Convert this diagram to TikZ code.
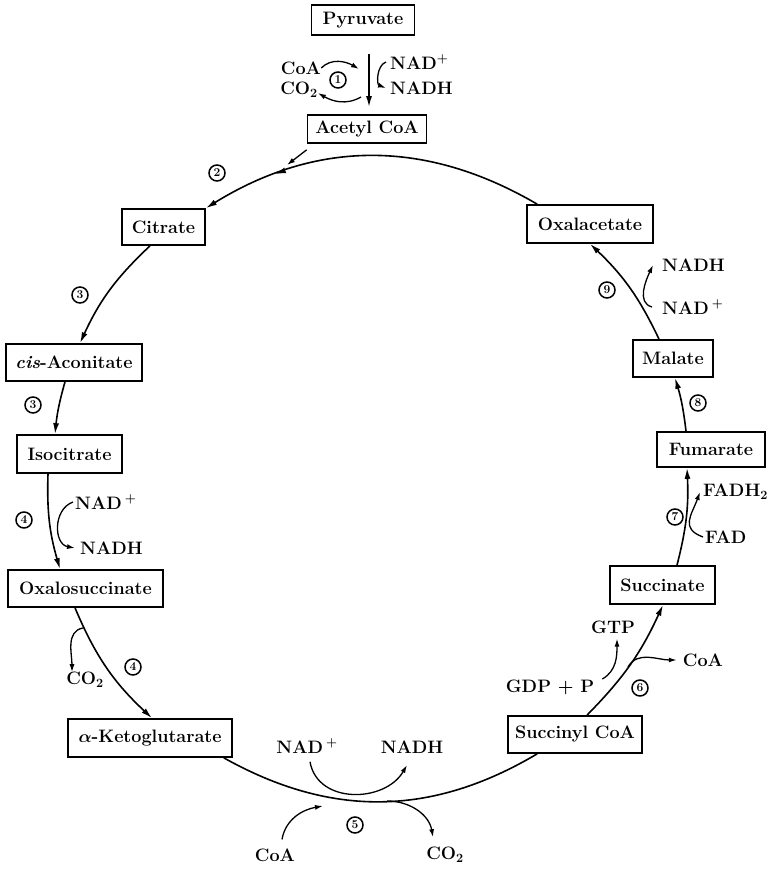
\documentclass[tikz,border=0pt]{standalone}
\usetikzlibrary{arrows.meta,decorations.markings}
\begin{document}
\begin{tikzpicture}[x=1pt,y=1pt,
  box/.style={draw, line width=1.7pt, inner sep=1pt, minimum height=37pt,
    font=\fontsize{18}{20}\selectfont\bfseries},
  lbl/.style={inner sep=0pt, font=\fontsize{18}{20}\selectfont\bfseries},
  num/.style={circle, draw, line width=1.5pt, minimum size=16pt, inner sep=0pt,
    font=\fontsize{12}{12}\selectfont\bfseries},
  flow/.style={line width=1.6pt, -{Latex[length=11pt,width=6pt]}},
  plain/.style={line width=1.6pt},
  side/.style={line width=1.3pt, -{Latex[length=8pt,width=5pt]}},
  midarrow/.style={postaction={decorate}, decoration={markings,
    mark=at position #1 with {\arrow{Latex[length=11pt,width=6pt]}}}},
]
\useasboundingbox (0,0) rectangle (775,870);

% metabolites
\node[box, minimum width=103pt, minimum height=30pt] (pyr) at (363,850) {Pyruvate};
\node[box, minimum width=119pt, minimum height=28pt] (acetyl) at (367,741) {Acetyl CoA};
\node[box, minimum width=83pt, minimum height=36pt] (cit) at (163.5,643) {Citrate};
\node[box, minimum width=136pt] (cisa) at (74,507.5) {\textit{cis}-Aconitate};
\node[box, minimum width=105pt, minimum height=38pt] (iso) at (69.5,416) {Isocitrate};
\node[box, minimum width=155pt] (oxs) at (85.5,281.5) {Oxalosuccinate};
\node[box, minimum width=164pt, minimum height=38pt] (akg) at (150,132) {{\boldmath$\alpha$}-Ketoglutarate};
\node[box, minimum width=134pt] (scoa) at (575,135.5) {Succinyl CoA};
\node[box, minimum width=105pt, minimum height=38pt] (succ) at (662.5,285) {Succinate};
\node[box, minimum width=108pt, minimum height=35pt] (fum) at (711,420.5) {Fumarate};
\node[box, minimum width=80pt] (mal) at (673,511.5) {Malate};
\node[box, minimum width=126pt, minimum height=38pt] (oxa) at (590,646) {Oxalacetate};

% the cycle
\draw[flow, shorten <=18pt, shorten >=7pt] ([xshift=6pt]pyr.south) -- ([xshift=2pt]acetyl.north);
\draw[flow, midarrow=0.78] ([xshift=11pt]oxa.north west) to[bend right=31] (cit.north east);
\coordinate (join) at (287,705);
\draw[side] ([yshift=-6pt]acetyl.south west) -- (join);
\draw[flow] ([xshift=-13.5pt]cit.south) to[bend right=11] ([xshift=6pt]cisa.north);
\draw[flow] ([xshift=-9pt]cisa.south) to[bend right=5] ([xshift=-14.5pt]iso.north);
\draw[flow] ([xshift=-21.5pt]iso.south) to[bend right=9] ([xshift=-25.5pt]oxs.north);
\draw[flow] ([xshift=-10.5pt]oxs.south) to[bend right=12] ([xshift=2pt]akg.north);
\draw[plain] ([xshift=-9pt]akg.south east) to[bend right=30] ([xshift=30pt]scoa.south west);
\draw[flow] ([xshift=12pt]scoa.north) to[bend right=10] ([xshift=0.5pt]succ.south);
\draw[flow] ([xshift=14.5pt]succ.north) to[bend right=8.5] ([xshift=-24pt]fum.south);
\draw[flow] ([xshift=-25pt]fum.north) to[bend right=5] ([xshift=2pt]mal.south);
\draw[flow] ([xshift=-14pt]mal.north) to[bend right=10.5] (oxa.south);

% step 1
\node[lbl] (coa1) at (301,802) {CoA};
\node[lbl] (co21) at (299,780) {CO\textsubscript{2}};
\node[num] (n1) at (338,790) {1};
\node[lbl, anchor=west] (nadp1) at (390,808) {NAD\textsuperscript{+}};
\node[lbl, anchor=west] (nadh1) at (390,782) {NADH};
\coordinate (t1in) at (359,801);
\coordinate (t1out) at (361,773);
\draw[side] (coa1.east) to[out=45,in=150] (t1in);
\draw[side] (t1out) to[out=-150,in=-30] ([yshift=-3pt]co21.east);
\draw[side] ([xshift=-4pt]nadp1.west) to[out=200,in=160] ([xshift=-4pt]nadh1.west);

% steps 2 and 3
\node[num] (n2) at (217,697) {2};
\node[num] (n3a) at (80,575) {3};
\node[num] (n3b) at (33,465) {3};

% step 4
\node[num] (n4a) at (24,350) {4};
\node[lbl, anchor=west] (nadp4) at (75,368) {NAD\,\textsuperscript{+}};
\node[lbl, anchor=west] (nadh4) at (80,322) {NADH};
\draw[side] ([xshift=-2pt]nadp4.west) to[out=200,in=170,looseness=1.2] ([xshift=-5pt]nadh4.west);
\node[lbl] (co24) at (85,190) {CO\textsubscript{2}};
\node[num] (n4b) at (133,203) {4};
\coordinate (c4) at (83,242);
\draw[side] (c4) to[out=190,in=90] ([xshift=-13pt]co24.north);

% step 5
\node[lbl] (nadp5) at (307,124) {NAD\,\textsuperscript{+}};
\node[lbl] (nadh5) at (412,123) {NADH};
\draw[side] ([shift={(3pt,-8.5pt)}]nadp5.south) to[out=-80,in=-120,looseness=1.15] ([shift={(-5pt,-11.5pt)}]nadh5.south);
\node[lbl] (coa5) at (275,15) {CoA};
\node[lbl] (co25) at (445,15) {CO\textsubscript{2}};
\node[num] (n5) at (355,45) {5};
\coordinate (t5in) at (323,64);
\coordinate (t5out) at (387,69);
\draw[side] ([shift={(7pt,9pt)}]coa5.north) to[out=80,in=190] (t5in);
\draw[side] (t5out) to[out=0,in=100] ([shift={(-12pt,10pt)}]co25.north);

% step 6
\node[lbl] (gtp) at (613,243) {GTP};
\node[lbl] (gdp) at (550,183) {GDP + P};
\node[lbl] (coa6) at (703,210) {CoA};
\node[num] (n6) at (640,182) {6};
\draw[side] ([shift={(8pt,8pt)}]gdp.east) to[out=30,in=-90] ([shift={(4pt,-5pt)}]gtp.south);
\coordinate (c6) at (628,203);
\draw[side] (c6) to[out=60,in=180] ([xshift=-6pt]coa6.west);

% step 7
\node[num] (n7) at (675,353) {7};
\node[lbl, anchor=west] (fadh) at (703,378) {FADH\textsubscript{2}};
\node[lbl, anchor=west] (fad) at (705,333) {FAD};
\draw[side] ([xshift=-2pt]fad.west) to[out=160,in=-110,looseness=1.4] ([xshift=-3pt]fadh.west);

% step 8
\node[num] (n8) at (698,467) {8};

% step 9
\node[num] (n9) at (607,580) {9};
\node[lbl, anchor=west] (nadh9) at (662,605) {NADH};
\node[lbl, anchor=west] (nadp9) at (662,563) {NAD\,\textsuperscript{+}};
\draw[side] ([xshift=-10pt]nadp9.west) to[out=165,in=-115] ([xshift=-9pt]nadh9.west);
\end{tikzpicture}
\end{document}
